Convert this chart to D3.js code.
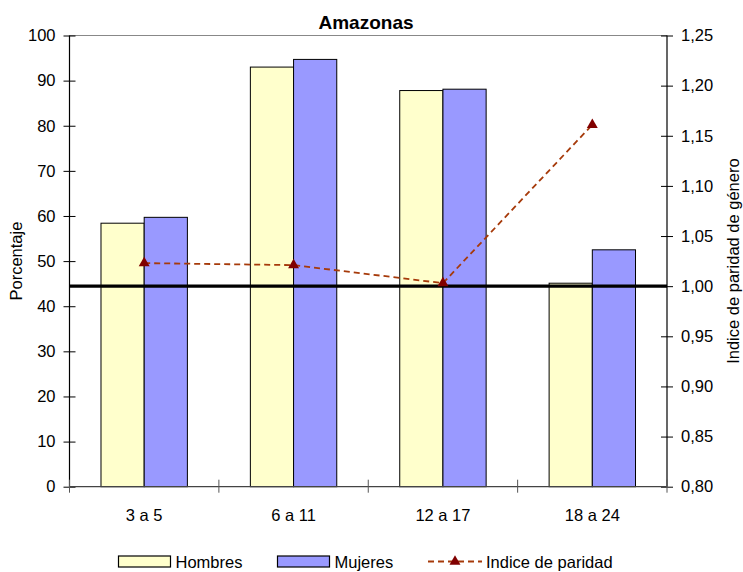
<!DOCTYPE html>
<html><head><meta charset="utf-8">
<script src="https://cdn.jsdelivr.net/npm/d3@7"></script>
<style>
body{margin:0;background:#fff;}
text{font-family:"Liberation Sans",Arial,sans-serif;fill:#000;}
</style></head>
<body>
<svg id="c" width="743" height="572"></svg>
<script>
const categories = ["3 a 5", "6 a 11", "12 a 17", "18 a 24"];
const seriesNames = ["Hombres", "Mujeres"];
const hombres = [58.4, 93.0, 87.8, 45.1];
const mujeres = [59.7, 94.7, 88.1, 52.5];
const indice = [1.023, 1.021, 1.003, 1.161];
const leftTicks = [0, 10, 20, 30, 40, 50, 60, 70, 80, 90, 100];
const rightTicks = [0.80, 0.85, 0.90, 0.95, 1.00, 1.05, 1.10, 1.15, 1.20, 1.25];
const parityRef = 1.00;
const colors = {Hombres: "#FFFFCC", Mujeres: "#9999FF"};

const FONT = '"Liberation Sans",Arial,sans-serif';
const FS = "16.5px";
const svg = d3.select("#c");
const L = 69.5, R = 667, T = 35.5, B = 486.7;

const x0 = d3.scaleBand().domain(categories).range([L, R]).paddingInner(0).paddingOuter(0);
const x1 = d3.scaleBand().domain(seriesNames).range([0, x0.bandwidth()]).paddingInner(0).paddingOuter(0.729);
const yL = d3.scaleLinear().domain([0, 100]).range([B, T]);
const yR = d3.scaleLinear().domain([0.8, 1.25]).range([B, T]);

// top border
svg.append("line").attr("x1", L).attr("x2", R).attr("y1", T).attr("y2", T)
  .attr("stroke", "#888").attr("stroke-width", 1);

// bars
const vals = {Hombres: hombres, Mujeres: mujeres};
seriesNames.forEach(s => {
  svg.append("g").selectAll("rect").data(categories).join("rect")
    .attr("x", (d) => x0(d) + x1(s))
    .attr("y", (d, i) => yL(vals[s][i]))
    .attr("width", x1.bandwidth())
    .attr("height", (d, i) => B - yL(vals[s][i]))
    .attr("fill", colors[s])
    .attr("stroke", "#000").attr("stroke-width", 1);
});

// axes
const axL = svg.append("g").attr("transform", `translate(${L},0)`)
  .call(d3.axisLeft(yL).tickValues(leftTicks).tickSize(6).tickPadding(8).tickFormat(d3.format("d")));
axL.selectAll(".tick line").attr("x2", 12).attr("transform", "translate(-6,0)");
const axR = svg.append("g").attr("transform", `translate(${R},0)`)
  .call(d3.axisRight(yR).tickValues(rightTicks).tickSize(6).tickPadding(8)
    .tickFormat(d => d3.format(".2f")(d).replace(".", ",")));
axR.selectAll(".tick line").attr("x2", 12).attr("transform", "translate(-6,0)");
const bounds = [L].concat(categories.map(c => x0(c) + x0.bandwidth()));
const axB = svg.append("g").attr("transform", `translate(0,${B})`)
  .call(d3.axisBottom(x0).tickSize(0).tickPadding(23));
axB.selectAll(".tick line").remove();
axB.selectAll(".bt").data(bounds).join("line").attr("class", "bt")
  .attr("x1", d => d).attr("x2", d => d).attr("y1", -7).attr("y2", 6)
  .attr("stroke", "#555");
[axL, axR, axB].forEach(a => {
  a.selectAll("text").style("font-size", FS).style("font-family", FONT).attr("fill", "#000");
  a.selectAll(".tick line").attr("stroke", "#000");
  a.select(".domain").attr("stroke", "#000").attr("stroke-width", 1.2);
});
axB.select(".domain").attr("stroke", "#444");
axB.selectAll(".domain").attr("d", `M${L},0H${R}`);
axL.select(".domain").attr("d", `M0,${T}V${B}`);
axR.select(".domain").attr("d", `M0,${T}V${B}`);

// parity reference line
svg.append("line").attr("x1", L).attr("x2", R)
  .attr("y1", yR(parityRef)).attr("y2", yR(parityRef))
  .attr("stroke", "#000").attr("stroke-width", 3.2);

// index line
const cx = d => x0(d) + x0.bandwidth() / 2;
svg.append("path").datum(categories)
  .attr("d", d3.line().x(d => cx(d)).y((d, i) => yR(indice[i])))
  .attr("fill", "none").attr("stroke", "#A63A0A").attr("stroke-width", 1.8)
  .attr("stroke-dasharray", "6,4");
const tri = d3.symbol().type(d3.symbolTriangle).size(52);
svg.append("g").selectAll("path").data(categories).join("path")
  .attr("d", tri)
  .attr("transform", (d, i) => `translate(${cx(d)},${yR(indice[i])})`)
  .attr("fill", "#800000");

// titles
svg.append("text").attr("x", 366).attr("y", 29).attr("text-anchor", "middle")
  .style("font-size", "19px").style("font-weight", "bold").text("Amazonas");
svg.append("text").attr("transform", `translate(22,${(T + B) / 2}) rotate(-90)`)
  .attr("text-anchor", "middle").style("font-size", FS).text("Porcentaje");
svg.append("text").attr("transform", `translate(739,${(T + B) / 2}) rotate(-90)`)
  .attr("text-anchor", "middle").style("font-size", FS).text("Indice de paridad de género");

// legend
const ly = 561.5;
const leg = svg.append("g");
[["Hombres", 118.5], ["Mujeres", 277.5]].forEach(([s, x]) => {
  leg.append("rect").attr("x", x).attr("y", ly - 5.5).attr("width", 52).attr("height", 11)
    .attr("fill", colors[s]).attr("stroke", "#000").attr("stroke-width", 1.2);
  leg.append("text").attr("x", x + 57).attr("y", ly + 6).style("font-size", FS).text(s);
});
leg.append("line").attr("x1", 428).attr("x2", 482).attr("y1", ly).attr("y2", ly)
  .attr("stroke", "#A63A0A").attr("stroke-width", 1.8).attr("stroke-dasharray", "6,4");
leg.append("path").attr("d", tri).attr("transform", `translate(455,${ly})`).attr("fill", "#800000");
leg.append("text").attr("x", 486).attr("y", ly + 6).style("font-size", FS).text("Indice de paridad");
</script>
</body></html>
